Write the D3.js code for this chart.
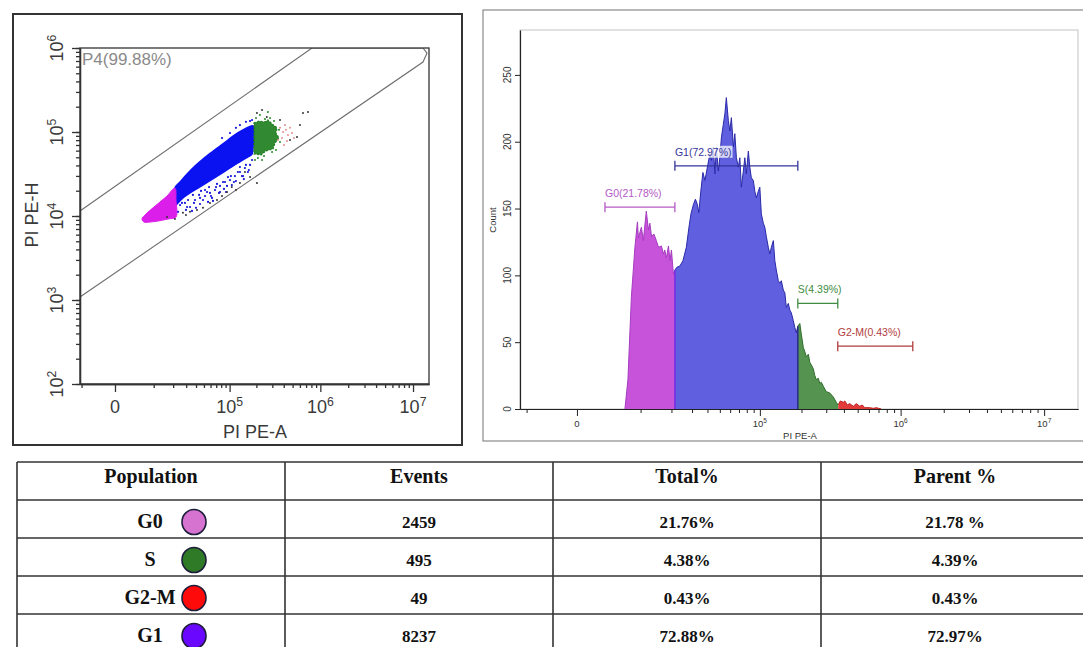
<!DOCTYPE html>
<html>
<head>
<meta charset="utf-8">
<script src="https://cdn.jsdelivr.net/npm/d3@7"></script>
<style>
  body { margin: 0; background: #fff; }
  svg { display: block; }
  text { font-family: "Liberation Sans", Arial, sans-serif; }
  .tbl text { font-family: "Liberation Serif", "Times New Roman", serif; font-weight: bold; fill: #111; }
</style>
</head>
<body>
<svg id="fig" width="1083" height="647"></svg>
<script>
// ---------- dot plot: PI PE-A vs PI PE-H ----------
// P4 gate outline (PE-A, PE-H)
const gateP4 = [[-8556, 11470], [811600, 1e6], [1.28e7, 1e6], [1.414e7, 871000], [1.28e7, 681000], [-8556, 1086]];
// dense parts of each population
const g0Cloud = [[6500, 8480], [5900, 9210], [7200, 10600], [9700, 12500], [12700, 14700], [16300, 17300], [21200, 21500],
  [21900, 15500], [21900, 9730], [16900, 9210], [11800, 8720], [8600, 8480]];
const g1Cloud = [[21200, 21500], [24900, 25400], [30800, 31600], [38800, 39400], [48700, 47700], [62400, 57800], [77500, 68100],
  [95800, 80300], [118000, 94600], [142000, 106000], [165000, 115000], [184000, 118000], [188000, 92100], [184000, 68100],
  [179000, 54700], [153000, 49000], [124000, 42800], [101000, 37300], [81800, 32500], [66000, 28300], [53000, 24700],
  [42300, 21500], [33600, 18800], [27200, 16400], [22600, 13900], [21900, 13500]];
const sCloud = [[188000, 128000], [213000, 135000], [249000, 132000], [268000, 139000], [298000, 125000], [338000, 112000],
  [329000, 97300], [355000, 84800], [321000, 74000], [305000, 62800], [255000, 59400], [225000, 53200], [188000, 54700]];
// sparse events around the clouds
const ungatedEvents = [[16300, 9730], [27200, 10900], [33600, 11200], [41100, 11800], [48700, 12500], [59100, 14300],
  [71500, 15500], [93300, 19300], [106000, 22100], [131000, 24700], [149000, 33400], [170000, 29100], [203000, 24700],
  [203000, 168000], [261000, 151000], [364000, 139000], [648000, 168000], [601000, 121000], [468000, 80300],
  [558000, 87200], [21200, 9210], [29800, 10300], [81800, 17300], [118000, 20400], [231000, 183000], [734000, 173000]];
const g1Events = [[24900, 13500], [28900, 14300], [33600, 12800], [38800, 15500], [44800, 16400], [51500, 17300],
  [59100, 18800], [67700, 20400], [77500, 22800], [88500, 25400], [101000, 26800], [115000, 29900], [131000, 33400],
  [149000, 37300], [170000, 40500], [29800, 11800], [44800, 13900], [62400, 16400], [86200, 21000], [118000, 26100],
  [161000, 33400], [36600, 17800], [51500, 20400], [71500, 24100], [95800, 29100], [131000, 38300], [35600, 11500],
  [56000, 14700], [106000, 23400], [23400, 11200], [142000, 29900], [77500, 19300], [131000, 121000], [153000, 132000],
  [170000, 135000], [118000, 112000], [101000, 97300], [81800, 84800], [179000, 139000],
  [26400, 14300], [31700, 15500], [37700, 14300], [43600, 17800], [48700, 15500], [54500, 19300], [60700, 17300],
  [69600, 22100], [75500, 18800], [84000, 25400], [93300, 22800], [103500, 29900], [112000, 25400], [124000, 33400],
  [138000, 29900], [153000, 40500], [165000, 35300], [179000, 46400], [30800, 12800], [40000, 12500], [64100, 15100],
  [90900, 19300], [145000, 27500], [46100, 19900], [57600, 22100]];
const sEvents = [[198000, 147000], [219000, 159000], [249000, 143000], [283000, 147000], [313000, 135000], [355000, 106000],
  [364000, 76000], [208000, 49000], [243000, 51800], [298000, 57800], [268000, 173000], [329000, 61100], [193000, 46400],
  [231000, 46400]];
const g2mEvents = [[364000, 112000], [393000, 100000], [423000, 106000], [445000, 92100], [383000, 84800], [468000, 112000],
  [413000, 121000], [492000, 97300], [346000, 80300], [517000, 84800], [434000, 78200], [403000, 70000]];

const xMajorTicks = [0, 1e5, 1e6, 1e7];
const yMajorTicks = [1e2, 1e3, 1e4, 1e5, 1e6];

// ---------- histogram: Count vs PI PE-A ----------
const histX = [6530, 7130, 7860, 8640, 9230, 9460, 10200, 10700, 11500, 12100, 12500, 13000, 13700, 14500, 15200, 16200,
  16900, 17400, 18000, 18800, 19400, 20000, 20800, 21450, 22300, 23700, 25200, 26900, 28300, 29400, 30800, 32000, 33200,
  34100, 35400, 36800, 38200, 40300, 41800, 43000, 44500, 45800, 47000, 48700, 50000, 51400, 53200, 54700, 56100, 58100,
  59700, 61300, 63500, 65100, 66900, 69200, 71000, 72900, 75400, 77400, 79400, 82200, 84300, 86500, 89500, 91800, 94200,
  97400, 99900, 102500, 106000, 108700, 111500, 115300, 118300, 121300, 125400, 128600, 131800, 136300, 139800, 143300,
  148100, 151900, 155700, 160900, 165000, 169100, 174800, 179200, 183700, 188300, 194600, 199500, 206100, 211300, 216500,
  223800, 229300, 235000, 242900, 248900, 255100, 263600, 270100, 276800, 286000, 300300, 317900, 336600, 353400, 365100,
  377100, 396000, 405700, 422500, 440000, 465700, 488800, 517300, 538800, 560900, 608100, 643500, 675400, 732100];
const histCount = [0, 22, 84, 121, 140, 128, 136, 126, 148, 134, 139, 129, 131, 126, 121, 122,
  116, 119, 113, 122, 111, 119, 101, 104, 106, 107, 111, 121, 136, 146, 153, 157, 153,
  147, 163, 177, 171, 183, 191, 186, 196, 176, 196, 178, 188, 203, 213, 221, 233, 216,
  208, 218, 196, 206, 188, 181, 188, 166, 178, 188, 176, 193, 181, 173, 171, 163, 158,
  163, 166, 146, 139, 136, 129, 121, 116, 121, 126, 111, 104, 96, 94, 96,
  89, 87, 76, 79, 74, 72, 66, 61, 57, 62, 64, 56, 46, 43, 39,
  41, 35, 33, 30, 25, 22, 23, 19, 20, 17, 13, 12, 9, 5, 3,
  6, 5, 6, 3, 4, 2, 4, 2, 3, 1, 1, 0.5, 1, 0];
const gateNames = ['G0', 'G1', 'S', 'G2-M'];
const gateLo = [3200, 21450, 188300, 362000];
const gateHi = [21450, 188300, 362000, 1216000];
const gateBarCount = [151, 182, 79, 47];
const gateLabels = ['G0(21.78%)', 'G1(72.97%)', 'S(4.39%)', 'G2-M(0.43%)'];
const fillStart = [0, 21450, 188300, 365100]; // first bin of each coloured segment
const countTicks = [0, 50, 100, 150, 200, 250];

// ---------- statistics table ----------
const tableHeaders = ['Population', 'Events', 'Total%', 'Parent %'];
const populations = ['G0', 'S', 'G2-M', 'G1'];
const events = [2459, 495, 49, 8237];
const totalPct = ['21.76%', '4.38%', '0.43%', '72.88%'];
const parentPct = ['21.78 %', '4.39%', '0.43%', '72.97%'];

const segFill = { 'G0': '#c653d9', 'G1': '#5f5fe0', 'S': '#559450', 'G2-M': '#e33a3a' };
const segLine = { 'G0': '#a63cc0', 'G1': '#2a2aa8', 'S': '#2f6e2b', 'G2-M': '#c02020' };
const gateColor = { 'G0': '#b45ac6', 'G1': '#35359c', 'S': '#418b41', 'G2-M': '#b03c3c' };
const markerColor = { 'G0': '#d672d0', 'S': '#2f7a27', 'G2-M': '#ff0a0a', 'G1': '#6a08ff' };

const svg = d3.select('#fig');

function powLabel(sel, v) {
  if (v === 0) { sel.text('0'); return; }
  sel.append('tspan').text('10');
  sel.append('tspan').attr('dy', '-0.55em').attr('font-size', '0.68em').text(Math.round(Math.log10(v)));
}

// =============== left panel ===============
svg.append('rect').attr('x', 13).attr('y', 14).attr('width', 449).attr('height', 431)
  .attr('fill', 'none').attr('stroke', '#333').attr('stroke-width', 2);

const sx = d3.scaleSymlog().constant(6200).domain([-8556, 1.486e7]).range([80, 429]);
const sy = d3.scaleLog().domain([1e2, 1e6]).range([384, 48]);

svg.append('clipPath').attr('id', 'clipS').append('rect')
  .attr('x', 80).attr('y', 48).attr('width', 349).attr('height', 336);
const plotS = svg.append('g').attr('clip-path', 'url(#clipS)');

const ptLine = d3.line().x(d => sx(d[0])).y(d => sy(d[1]));
plotS.append('path').attr('d', ptLine(gateP4)).attr('fill', 'none').attr('stroke', '#6f6f6f').attr('stroke-width', 1.1);

const cloudPath = d3.line().x(d => sx(d[0])).y(d => sy(d[1])).curve(d3.curveCatmullRomClosed.alpha(0.5));
const roughPath = d3.line().x(d => sx(d[0])).y(d => sy(d[1])).curve(d3.curveLinearClosed);
plotS.append('path').attr('d', cloudPath(g1Cloud)).attr('fill', '#0b12f2').attr('stroke', '#0b12f2').attr('stroke-width', 1.5);
plotS.append('path').attr('d', cloudPath(g0Cloud)).attr('fill', '#dc1eea').attr('stroke', '#dc1eea').attr('stroke-width', 1);
plotS.append('path').attr('d', roughPath(sCloud)).attr('fill', '#1f7f1f').attr('fill-opacity', 0.92)
  .attr('stroke', '#1f7f1f').attr('stroke-width', 1.2).attr('stroke-dasharray', '2,1.5');

function dots(data, color, r) {
  plotS.append('g').selectAll('circle').data(data).join('circle')
    .attr('cx', d => sx(d[0])).attr('cy', d => sy(d[1])).attr('r', r).attr('fill', color);
}
dots(g1Events, '#1515d8', 1.1);
dots(ungatedEvents, '#333', 1);
dots(sEvents, '#2a8a2a', 1);
dots(g2mEvents, '#e48f8f', 1);

// frame and axes
svg.append('rect').attr('x', 80).attr('y', 48).attr('width', 349).attr('height', 336)
  .attr('fill', 'none').attr('stroke', '#333').attr('stroke-width', 1.3);

const sxMinor = [-8000];
[1e4, 1e5, 1e6].forEach(d => { for (let k = 2 - (d === 1e4 ? 1 : 0); k <= 9; k++) sxMinor.push(k * d); });
const gx1 = svg.append('g').attr('transform', 'translate(0,384)')
  .call(d3.axisBottom(sx).tickValues(sxMinor).tickSize(4).tickSizeOuter(0).tickFormat(''));
const gx2 = svg.append('g').attr('transform', 'translate(0,384)')
  .call(d3.axisBottom(sx).tickValues(xMajorTicks).tickSize(8).tickSizeOuter(0).tickFormat(''));
const gy1 = svg.append('g').attr('transform', 'translate(80,0)')
  .call(d3.axisLeft(sy).tickValues(sy.ticks()).tickSize(4).tickSizeOuter(0).tickFormat(''));
const gy2 = svg.append('g').attr('transform', 'translate(80,0)')
  .call(d3.axisLeft(sy).tickValues(yMajorTicks).tickSize(8).tickSizeOuter(0).tickFormat(''));
[gx1, gx2, gy1, gy2].forEach(g => {
  g.selectAll('line').attr('stroke', '#333').attr('stroke-width', 1.3);
  g.select('.domain').attr('stroke', '#333').attr('stroke-width', 1.3);
});

svg.append('g').selectAll('text').data(xMajorTicks).join('text')
  .attr('x', d => sx(d)).attr('y', 413).attr('text-anchor', 'middle')
  .attr('font-size', 18).attr('fill', '#3a3a3a')
  .each(function (d) { powLabel(d3.select(this), d); });
svg.append('g').selectAll('text').data(yMajorTicks).join('text')
  .attr('transform', d => `translate(63,${sy(d)}) rotate(-90)`).attr('text-anchor', 'middle')
  .attr('font-size', 18).attr('fill', '#3a3a3a')
  .each(function (d) { powLabel(d3.select(this), d); });

svg.append('text').attr('x', 255).attr('y', 438).attr('text-anchor', 'middle')
  .attr('font-size', 18).attr('fill', '#3a3a3a').text('PI PE-A');
svg.append('text').attr('transform', 'translate(38,215) rotate(-90)').attr('text-anchor', 'middle')
  .attr('font-size', 18).attr('fill', '#3a3a3a').text('PI PE-H');
svg.append('text').attr('x', 82).attr('y', 65).attr('font-size', 17).attr('fill', '#8a8a8a').text('P4(99.88%)');

// =============== right panel ===============
svg.append('rect').attr('x', 483).attr('y', 10).attr('width', 620).attr('height', 431)
  .attr('fill', 'none').attr('stroke', '#8a8a8a').attr('stroke-width', 1.2);

const hx = d3.scaleSymlog().constant(5650).domain([-8410, 1.72e7]).range([520, 1078]);
const hy = d3.scaleLinear().domain([0, 283.6]).range([409, 30]);

svg.append('rect').attr('x', 520).attr('y', 30).attr('width', 558).attr('height', 379)
  .attr('fill', 'none').attr('stroke', '#b5b5b5').attr('stroke-width', 0.8);

const bins = histX.map((x, i) => [x, histCount[i]]);
const histArea = d3.area().x(d => hx(d[0])).y0(hy(0)).y1(d => hy(d[1]));
const histTop = d3.line().x(d => hx(d[0])).y(d => hy(d[1]));
gateNames.forEach((name, i) => {
  const lo = fillStart[i];
  const hi = i < fillStart.length - 1 ? fillStart[i + 1] : Infinity;
  const seg = bins.filter(d => d[0] >= lo && d[0] <= hi);
  svg.append('path').attr('d', histArea(seg)).attr('fill', segFill[name]);
  svg.append('path').attr('d', histTop(seg)).attr('fill', 'none').attr('stroke', segLine[name]).attr('stroke-width', 1);
});
// vertical edges where the gates meet
[[21450, 104, '#7a2be0'], [188300, 62, '#2a2a8a']].forEach(([x, c, col]) => {
  svg.append('line').attr('x1', hx(x)).attr('x2', hx(x)).attr('y1', hy(0)).attr('y2', hy(c))
    .attr('stroke', col).attr('stroke-width', 1.5);
});

// gate markers
gateNames.forEach((name, i) => {
  const g = svg.append('g').attr('stroke', gateColor[name]).attr('stroke-width', 1.3);
  const y = hy(gateBarCount[i]);
  g.append('line').attr('x1', hx(gateLo[i])).attr('x2', hx(gateHi[i])).attr('y1', y).attr('y2', y);
  [gateLo[i], gateHi[i]].forEach(v => g.append('line').attr('x1', hx(v)).attr('x2', hx(v)).attr('y1', y - 5).attr('y2', y + 5));
  const t = svg.append('text').attr('x', hx(gateLo[i])).attr('y', y - 10).attr('font-size', 10.5)
    .attr('fill', gateColor[name]).text(gateLabels[i]);
  const bb = t.node().getBBox();
  svg.insert('rect', () => t.node()).attr('x', bb.x - 1).attr('y', bb.y).attr('width', bb.width + 2).attr('height', bb.height)
    .attr('fill', '#fff').attr('fill-opacity', 0.75);
});

const hxMinor = [-7000];
[1e4, 1e5, 1e6].forEach(d => { for (let k = 2 - (d === 1e4 ? 1 : 0); k <= 9; k++) hxMinor.push(k * d); });
const hg1 = svg.append('g').attr('transform', 'translate(0,409)')
  .call(d3.axisBottom(hx).tickValues(hxMinor).tickSize(4).tickSizeOuter(0).tickFormat(''));
const hg2 = svg.append('g').attr('transform', 'translate(0,409)')
  .call(d3.axisBottom(hx).tickValues(xMajorTicks).tickSize(7).tickSizeOuter(0).tickFormat(''));
const hg3 = svg.append('g').attr('transform', 'translate(520,0)')
  .call(d3.axisLeft(hy).tickValues(countTicks).tickSize(5).tickSizeOuter(0).tickFormat(''));
[hg1, hg2, hg3].forEach(g => {
  g.selectAll('line').attr('stroke', '#222');
  g.select('.domain').attr('stroke', '#222').attr('stroke-width', 1.2);
});
svg.append('g').selectAll('text').data(xMajorTicks).join('text')
  .attr('x', d => hx(d)).attr('y', 427).attr('text-anchor', 'middle')
  .attr('font-size', 9.5).attr('fill', '#333')
  .each(function (d) { powLabel(d3.select(this), d); });
svg.append('g').selectAll('text').data(countTicks).join('text')
  .attr('transform', d => `translate(511,${hy(d)}) rotate(-90)`).attr('text-anchor', 'middle')
  .attr('font-size', 10).attr('fill', '#333').text(d => d);
svg.append('text').attr('x', 800).attr('y', 439).attr('text-anchor', 'middle')
  .attr('font-size', 9.5).attr('fill', '#333').text('PI PE-A');
svg.append('text').attr('transform', 'translate(496,220) rotate(-90)').attr('text-anchor', 'middle')
  .attr('font-size', 9.5).attr('fill', '#333').text('Count');

// =============== table ===============
const colX = [17, 285, 553, 821, 1089];
const rowY = [462, 500, 538, 576, 614, 652];
const tbl = svg.append('g').attr('class', 'tbl');
tbl.selectAll('line.h').data(rowY).join('line').attr('class', 'h')
  .attr('x1', colX[0]).attr('x2', colX[4]).attr('y1', d => d).attr('y2', d => d)
  .attr('stroke', '#333').attr('stroke-width', 1.6);
tbl.selectAll('line.v').data(colX).join('line').attr('class', 'v')
  .attr('x1', d => d).attr('x2', d => d).attr('y1', rowY[0]).attr('y2', rowY[5])
  .attr('stroke', '#333').attr('stroke-width', 1.6);
const colMid = d3.range(4).map(i => (colX[i] + colX[i + 1]) / 2);
tbl.selectAll('text.hd').data(tableHeaders).join('text').attr('class', 'hd')
  .attr('x', (d, i) => i === 0 ? 151 : colMid[i]).attr('y', 483).attr('text-anchor', 'middle')
  .attr('font-size', 20).text(d => d);
populations.forEach((p, r) => {
  const base = rowY[r + 1] + 28;
  const cells = [p, events[r], totalPct[r], parentPct[r]];
  cells.forEach((c, i) => {
    tbl.append('text').attr('x', i === 0 ? 150 : colMid[i]).attr('y', base).attr('text-anchor', 'middle')
      .attr('font-size', i === 0 ? 20 : 17).text(c);
  });
  tbl.append('ellipse').attr('cx', 194).attr('cy', base - 6).attr('rx', 12).attr('ry', 12.5)
    .attr('fill', markerColor[p]).attr('stroke', '#1d1d3a').attr('stroke-width', 1.6);
});
</script>
</body>
</html>
